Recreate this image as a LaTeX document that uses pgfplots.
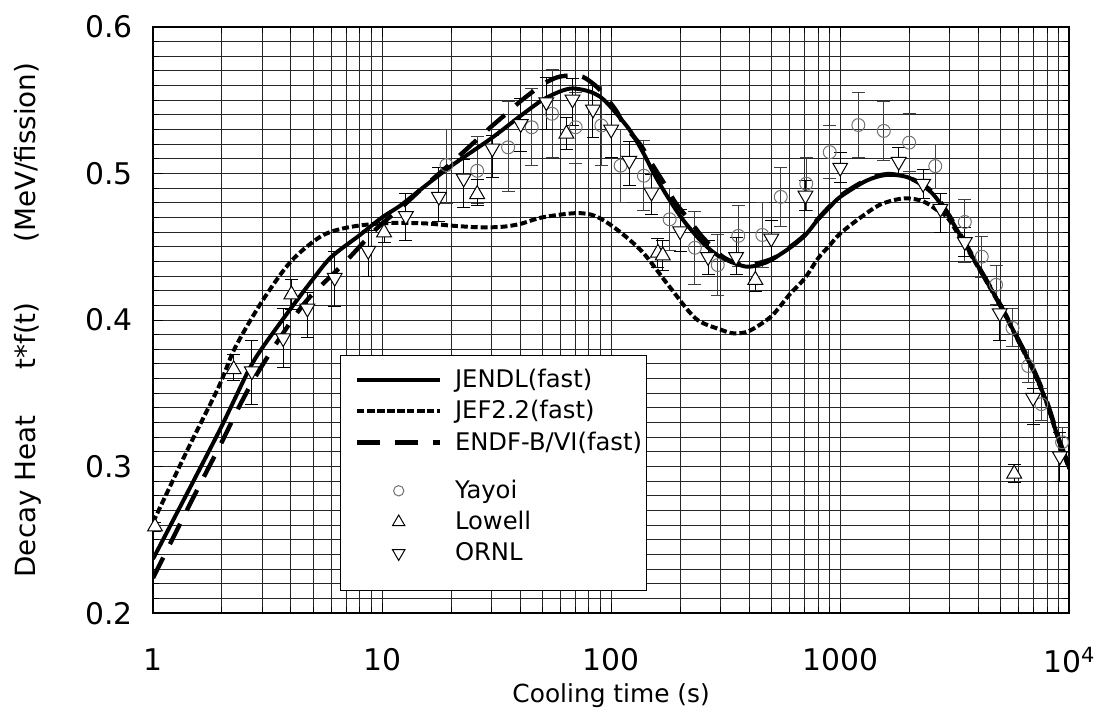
\documentclass[border=0pt]{standalone}
\usepackage{fontspec}
\setmainfont{DejaVu Sans}
\usepackage{pgfplots}
\usepackage{pgfplotstable}
\pgfplotsset{compat=1.18}

\pgfplotstableread{
x y ep em
19.1 0.5057 0.024 0.026
26.0 0.5018 0.0236 0.022
35.5 0.5178 0.031 0.030
45.0 0.5315 0.0265 0.026
55.2 0.5407 0.030 0.030
70.0 0.5315 0.024 0.0245
90.6 0.5327 0.027 0.027
110 0.5053 0.025 0.025
139 0.4984 0.024 0.024
180 0.4687 0.021 0.021
232 0.4493 0.025 0.025
292 0.4375 0.021 0.021
359 0.4574 0.021 0.021
457 0.4580 0.022 0.022
550 0.4840 0.020 0.020
711 0.4930 0.018 0.018
900 0.5145 0.018 0.018
1200 0.5330 0.022 0.022
1550 0.5290 0.020 0.020
2000 0.5210 0.020 0.020
2600 0.5050 0.015 0.015
3500 0.4669 0.015 0.028
4150 0.4432 0.014 0.014
4790 0.4240 0.0135 0.0135
5650 0.3946 0.013 0.013
6620 0.3686 0.011 0.011
7550 0.3426 0.011 0.011
9300 0.3166 0.010 0.010
}\yayoi

\pgfplotstableread{
x y ep em
1.02 0.2590 0.003 0.003
2.25 0.3663 0.010 0.0075
4.02 0.4174 0.010 0.010
10.2 0.4597 0.007 0.007
26.0 0.4858 0.010 0.008
63.8 0.5270 0.011 0.011
160 0.4458 0.010 0.010
168 0.4440 0.010 0.010
426 0.4273 0.010 0.008
5750 0.2951 0.006 0.006
}\lowell

\pgfplotstableread{
x y ep em
2.70 0.3651 0.021 0.023
3.70 0.3877 0.020 0.020
4.72 0.4079 0.011 0.020
6.21 0.4289 0.018 0.020
8.70 0.4473 0.0136 0.0175
12.7 0.4710 0.015 0.017
17.7 0.4842 0.020 0.017
22.7 0.4966 0.013 0.020
30.3 0.5171 0.009 0.020
40.3 0.5338 0.017 0.019
52.1 0.5487 0.017 0.019
67.8 0.5505 0.014 0.018
83.3 0.5437 0.016 0.019
100 0.5300 0.010 0.019
120 0.5087 0.013 0.017
150 0.4870 0.0125 0.015
200 0.4607 0.015 0.014
265 0.4431 0.011 0.012
351 0.4431 0.013 0.012
500 0.4556 0.012 0.016
705 0.4850 0.010 0.010
1000 0.5040 0.010 0.010
1800 0.5080 0.010 0.010
2300 0.4930 0.010 0.010
2740 0.4760 0.010 0.016
3500 0.4533 0.010 0.010
4970 0.4047 0.005 0.019
6950 0.3470 0.006 0.018
9100 0.3071 0.016 0.017
}\ornl

\begin{document}
\begin{tikzpicture}
\begin{axis}[
  scale only axis, width=461pt, height=295pt,
  xmode=log, xmin=1, xmax=10000, ymin=0.2, ymax=0.6,
  xtick={1,10,100,1000,10000},
  xticklabels={1,10,100,1000,10\textsuperscript{4}},
  ytick={0.2,0.3,0.4,0.5,0.6},
  yticklabels={0.2,0.3,0.4,0.5,0.6},
  minor y tick num=9,
  grid=both,
  major grid style={black!85, line width=0.5pt},
  minor grid style={black!85, line width=0.5pt},
  axis line style={black, line width=0.8pt},
  tick style={black, line width=0.5pt},
  tick align=inside,
  major tick length=5pt, minor tick length=3pt,
  ticklabel style={font=\fontsize{15}{17}\selectfont},
  xticklabel style={anchor=center, yshift=-23.5pt},
  yticklabel style={xshift=-6.8pt},
  xlabel={Cooling time (s)},
  xlabel style={font=\fontsize{12.5}{15}\selectfont, at={(rel axis cs:0.5,-0.1407)}, anchor=center},
  ylabel={Decay Heat\hspace{23pt}t*f(t)\hspace{30pt}(MeV/fission)},
  ylabel style={font=\fontsize{14}{17}\selectfont, at={(rel axis cs:-0.1367,0.5)}, anchor=center},
  legend style={at={(rel axis cs:0.2039,0.4407)}, anchor=north west, draw=black, line width=0.5pt, fill=white,
    inner xsep=1.5pt, inner ysep=6pt, font=\fontsize{12.2}{14}\selectfont, cells={anchor=west},
    row sep=3pt, column sep=5.5pt, nodes={inner sep=1pt}},
  legend image code/.code={\path (0pt,0pt); \draw[mark repeat=2, mark phase=2, #1] plot coordinates {(6pt,0pt) (26.75pt,0pt) (47.5pt,0pt)};},
]
\coordinate (A) at (rel axis cs:0,0);

% experimental data (drawn first)
\addplot[forget plot, only marks, mark=o, mark size=3.25pt, mark options={black!55, line width=0.5pt},
  error bars/.cd, y dir=both, y explicit, error bar style={black!75, line width=0.5pt},
  error mark options={rotate=90, black!75, line width=0.5pt, mark size=3.25pt}]
  table[x=x, y=y, y error plus=ep, y error minus=em] {\yayoi};
\addplot[forget plot, only marks, mark=triangle*, mark size=4.3pt, mark options={fill=white, draw=black, line width=0.5pt},
  error bars/.cd, y dir=both, y explicit, error bar style={black, line width=0.5pt},
  error mark options={rotate=90, black, line width=0.5pt, mark size=3.25pt}]
  table[x=x, y=y, y error plus=ep, y error minus=em] {\lowell};
\addplot[forget plot, only marks, mark=triangle*, mark size=4.3pt, mark options={fill=white, draw=black, line width=0.5pt, rotate=180},
  error bars/.cd, y dir=both, y explicit, error bar style={black, line width=0.5pt},
  error mark options={rotate=90, black, line width=0.5pt, mark size=3.25pt}]
  table[x=x, y=y, y error plus=ep, y error minus=em] {\ornl};

% calculations
\addplot[black, line width=2pt, smooth] coordinates {
(1,0.237) (1.5,0.290) (2,0.328) (2.6,0.365) (3,0.381) (4,0.408) (5,0.428) (6,0.443) (8,0.458)
(10,0.470) (12,0.478) (15,0.490) (20,0.505) (30,0.524) (40,0.539) (50,0.550) (60,0.556) (68,0.558)
(80,0.556) (90,0.552) (100,0.545) (120,0.530) (137,0.515) (160,0.495) (200,0.471) (250,0.453)
(300,0.443) (385,0.4365) (450,0.438) (500,0.441) (600,0.449) (700,0.4575) (800,0.4686) (900,0.477)
(1000,0.484) (1300,0.495) (1600,0.499) (2000,0.497) (2500,0.487) (3000,0.470) (4000,0.4365)
(5000,0.410) (6000,0.386) (7000,0.365) (8000,0.343) (9000,0.318) (10000,0.299)};
\addlegendentry{\rule[-3pt]{0pt}{12pt}JENDL(fast)}
\addplot[black, line width=2pt, dash pattern=on 3.5pt off 1.5pt, smooth] coordinates {
(1,0.262) (1.43,0.313) (1.93,0.354) (2.28,0.381) (3,0.413) (4,0.440) (5.4,0.457) (7,0.463) (10,0.466)
(15,0.466) (20,0.4644) (26,0.4633) (33,0.4635) (40,0.4655) (50,0.470) (70,0.4729) (85,0.471) (105,0.4622)
(137,0.4464) (178,0.4236) (234,0.4010) (300,0.3935) (343,0.3909) (400,0.3925) (500,0.4025) (600,0.4173)
(700,0.4284) (800,0.442) (900,0.451) (1000,0.459) (1236,0.4703) (1508,0.479) (1900,0.483) (2300,0.481)
(2700,0.474) (3000,0.468) (4000,0.436) (5000,0.4095) (6000,0.3855) (7000,0.3645) (8000,0.3425)
(9000,0.3175) (10000,0.2985)};
\addlegendentry{\rule[-3pt]{0pt}{12pt}JEF2.2(fast)}
\addplot[black, line width=2.2pt, dash pattern=on 11.5pt off 7.5pt, smooth] coordinates {
(1,0.224) (1.5,0.279) (2,0.317) (2.36,0.340) (2.79,0.361) (3.52,0.386) (4.67,0.413) (6.85,0.439)
(9.55,0.463) (12,0.476) (15,0.490) (20,0.507) (26.8,0.525) (30,0.532) (35,0.541) (40,0.549) (50,0.5605)
(58,0.5655) (66,0.5668) (75,0.566) (88,0.558) (105,0.543) (114,0.533) (135,0.519) (149,0.5077)
(173,0.4915) (191,0.480) (226,0.4655) (254,0.4555) (310,0.4427) (385,0.4375) (500,0.4415) (600,0.4495)
(700,0.458) (800,0.469) (1000,0.4845) (1300,0.4955) (1600,0.4995) (2000,0.497) (2500,0.488)
(3000,0.471) (4000,0.437) (5000,0.4105) (6000,0.3865) (7000,0.366) (8000,0.344) (9000,0.319) (10000,0.300)};
\addlegendentry{\rule[-3pt]{0pt}{12pt}ENDF-B/VI(fast)}
\addlegendimage{empty legend}
\addlegendentry{\rule{0pt}{2pt}}
\addlegendimage{only marks, mark=o, mark size=2.6pt, mark options={black!55, line width=0.5pt}}
\addlegendentry{\rule[-3.5pt]{0pt}{12.5pt}Yayoi}
\addlegendimage{only marks, mark=triangle, mark size=3.6pt, mark options={black, line width=0.5pt}}
\addlegendentry{\rule[-3.5pt]{0pt}{12.5pt}Lowell}
\addlegendimage{only marks, mark=triangle, mark size=3.6pt, mark options={black, line width=0.5pt, rotate=180}}
\addlegendentry{\rule[-3.5pt]{0pt}{12.5pt}ORNL}
\addlegendimage{empty legend}
\addlegendentry{\rule{0pt}{0pt}}
\end{axis}
\path (A) ++(-77pt,-45pt) rectangle ++(551pt,353.5pt);
\end{tikzpicture}
\end{document}
